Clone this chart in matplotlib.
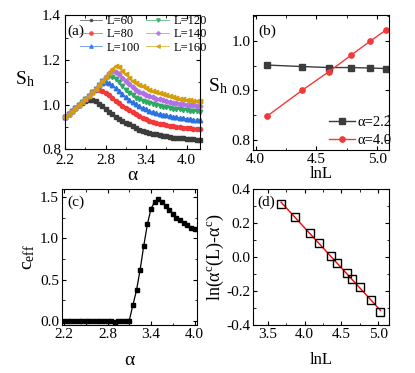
import numpy as np
import matplotlib
matplotlib.use("Agg")
import matplotlib.pyplot as plt
from matplotlib.ticker import AutoMinorLocator

plt.rcParams['font.family'] = ['Liberation Serif', 'DejaVu Serif']
plt.rcParams['mathtext.fontset'] = 'custom'
plt.rcParams['mathtext.rm'] = 'Liberation Serif'
plt.rcParams['mathtext.it'] = 'Liberation Serif:italic'
plt.rcParams['axes.unicode_minus'] = False

# ---------------- data ----------------
alpha_a = [2.20, 2.25, 2.30, 2.35, 2.40, 2.45, 2.50, 2.55, 2.60, 2.65,
           2.70, 2.75, 2.80, 2.85, 2.90, 2.95, 3.00, 3.05, 3.10, 3.15,
           3.20, 3.25, 3.30, 3.35, 3.40, 3.45, 3.50, 3.55, 3.60, 3.65,
           3.70, 3.75, 3.80, 3.85, 3.90, 3.95, 4.00, 4.05, 4.10, 4.15, 4.20]
S_L60 = [0.945, 0.958, 0.971, 0.984, 0.997, 1.009, 1.018, 1.022, 1.021, 1.014,
         1.004, 0.992, 0.979, 0.967, 0.956, 0.945, 0.936, 0.927, 0.919, 0.911,
         0.903, 0.895, 0.888, 0.882, 0.877, 0.873, 0.870, 0.867, 0.864, 0.861,
         0.858, 0.855, 0.852, 0.850, 0.849, 0.848, 0.847, 0.845, 0.844, 0.843, 0.842]
S_L80 = [0.945, 0.958, 0.971, 0.984, 0.997, 1.011, 1.025, 1.039, 1.055, 1.064,
         1.066, 1.062, 1.053, 1.042, 1.030, 1.018, 1.006, 0.995, 0.985, 0.975,
         0.965, 0.956, 0.947, 0.940, 0.934, 0.928, 0.923, 0.919, 0.915, 0.912,
         0.909, 0.906, 0.903, 0.900, 0.898, 0.896, 0.895, 0.893, 0.891, 0.890, 0.889]
S_L100 = [0.945, 0.958, 0.971, 0.984, 0.997, 1.011, 1.025, 1.040, 1.055, 1.071,
          1.086, 1.096, 1.099, 1.095, 1.086, 1.074, 1.061, 1.046, 1.032, 1.020,
          1.010, 1.001, 0.993, 0.985, 0.979, 0.973, 0.967, 0.962, 0.958, 0.955,
          0.952, 0.949, 0.946, 0.943, 0.941, 0.939, 0.937, 0.934, 0.932, 0.931, 0.930]
S_L120 = [0.945, 0.958, 0.971, 0.984, 0.997, 1.011, 1.025, 1.040, 1.055, 1.071,
          1.088, 1.106, 1.121, 1.127, 1.123, 1.113, 1.099, 1.082, 1.066, 1.053,
          1.041, 1.031, 1.024, 1.018, 1.012, 1.006, 1.001, 0.997, 0.994, 0.991,
          0.988, 0.985, 0.982, 0.980, 0.978, 0.976, 0.974, 0.972, 0.970, 0.969, 0.968]
S_L140 = [0.945, 0.958, 0.971, 0.984, 0.997, 1.011, 1.025, 1.040, 1.055, 1.071,
          1.088, 1.106, 1.125, 1.141, 1.149, 1.146, 1.137, 1.121, 1.104, 1.090,
          1.077, 1.066, 1.058, 1.051, 1.044, 1.038, 1.032, 1.027, 1.023, 1.019,
          1.015, 1.011, 1.008, 1.006, 1.004, 1.002, 1.000, 0.998, 0.996, 0.995, 0.994]
S_L160 = [0.945, 0.958, 0.971, 0.984, 0.997, 1.011, 1.025, 1.040, 1.055, 1.071,
          1.088, 1.106, 1.125, 1.143, 1.160, 1.171, 1.168, 1.152, 1.135, 1.120,
          1.107, 1.096, 1.088, 1.081, 1.074, 1.067, 1.061, 1.056, 1.051, 1.047,
          1.042, 1.037, 1.033, 1.030, 1.027, 1.025, 1.022, 1.020, 1.018, 1.016, 1.015]
labels_a = ['L=60', 'L=80', 'L=100', 'L=120', 'L=140', 'L=160']

lnL_b = [4.094, 4.382, 4.605, 4.787, 4.942, 5.075]
S_a22 = [0.951, 0.948, 0.946, 0.946, 0.945, 0.944]
S_a40 = [0.848, 0.900, 0.938, 0.971, 0.999, 1.022]
labels_b = ['α=2.2', 'α=4.0']

alpha_c = [2.20, 2.25, 2.30, 2.35, 2.40, 2.45, 2.50, 2.55, 2.60, 2.65,
           2.70, 2.75, 2.80, 2.85, 2.90, 2.95, 3.00, 3.05, 3.10, 3.15,
           3.20, 3.25, 3.30, 3.35, 3.40, 3.45, 3.50, 3.55, 3.60, 3.65,
           3.70, 3.75, 3.80, 3.85, 3.90, 3.95, 4.00]
ceff = [0.002, 0.001, 0.002, 0.000, 0.001, 0.002, 0.003, 0.003, 0.002, 0.003,
        0.002, 0.001, -0.002, -0.003, -0.018, 0.002, 0.003, 0.002, 0.003, 0.19,
        0.37, 0.62, 0.91, 1.17, 1.36, 1.44, 1.47, 1.44, 1.39, 1.34,
        1.29, 1.25, 1.22, 1.18, 1.16, 1.13, 1.11]

lnL_d = [3.68, 3.87, 4.07, 4.19, 4.36, 4.44, 4.57, 4.65, 4.75, 4.90, 5.03]
lnda_d = [0.312, 0.233, 0.137, 0.082, 0.007, -0.036, -0.095, -0.131, -0.180, -0.256, -0.325]

# ---------------- figure ----------------
fig = plt.figure(figsize=(4.15, 3.73), dpi=100)
axA = fig.add_axes([0.157, 0.600, 0.325, 0.359])
axB = fig.add_axes([0.610, 0.598, 0.328, 0.362])
axC = fig.add_axes([0.149, 0.129, 0.325, 0.365])
axD = fig.add_axes([0.610, 0.129, 0.328, 0.365])

TF = 11
for ax in (axA, axB, axC, axD):
    ax.tick_params(which='both', direction='in', top=True, right=True, labelsize=TF, pad=2)
    ax.tick_params(which='major', length=3, width=0.8)
    ax.tick_params(which='minor', length=1.8, width=0.6)
    ax.xaxis.set_minor_locator(AutoMinorLocator(2))
    ax.yaxis.set_minor_locator(AutoMinorLocator(2))
    for s in ax.spines.values():
        s.set_linewidth(0.8)
axA.tick_params(axis='x', which='both', pad=3.5)
axA.tick_params(axis='y', which='both', pad=3)

# (a)
cols = ['#3c3c3c', '#f03a3a', '#2a72e0', '#2ea862', '#b070e6', '#d49e0a']
marks = ['s', 'o', '^', 'v', 'D', '<']
msz = [2.6, 3.0, 3.2, 3.2, 2.5, 3.2]
for ys, c, m, ms, lab in zip([S_L60, S_L80, S_L100, S_L120, S_L140, S_L160], cols, marks, msz, labels_a):
    axA.plot(alpha_a, ys, color=c, marker=m, ms=ms, lw=0.6, mec=c, label=lab, clip_on=False)
axA.set_xlim(2.2, 4.2)
axA.set_ylim(0.8, 1.4)
axA.set_xticks([2.2, 2.8, 3.4, 4.0])
axA.set_yticks([0.8, 1.0, 1.2, 1.4])
axA.set_xlabel('α', fontsize=14, labelpad=0)
axA.set_ylabel(r'$\mathregular{S_h}$', fontsize=14, rotation=0, va='center')
axA.yaxis.set_label_coords(-0.30, 0.52)
axA.text(0.02, 0.93, '(a)', transform=axA.transAxes, fontsize=11, va='top')
leg = axA.legend(ncol=2, loc='upper left', bbox_to_anchor=(0.10, 1.01), frameon=False,
                 fontsize=9, handlelength=1.8, handletextpad=0.35, columnspacing=0.5,
                 labelspacing=0.1, borderaxespad=0.0, borderpad=0.1, markerscale=0.8)
for lh in leg.get_lines():
    lh.set_alpha(0.75)

# (b)
axB.plot(lnL_b, S_a22, color='#3c3c3c', marker='s', ms=3.8, lw=1.0, label=labels_b[0])
axB.plot(lnL_b, S_a40, color='#f03a3a', marker='o', ms=3.8, lw=1.0, label=labels_b[1])
axB.set_xlim(3.98, 5.10)
axB.set_ylim(0.78, 1.052)
axB.set_xticks([4.0, 4.5, 5.0])
axB.set_yticks([0.8, 0.9, 1.0])
axB.set_xlabel('lnL', fontsize=12, labelpad=0)
axB.set_ylabel(r'$\mathregular{S_h}$', fontsize=14, rotation=0, va='center')
axB.yaxis.set_label_coords(-0.26, 0.47)
axB.text(0.04, 0.93, '(b)', transform=axB.transAxes, fontsize=11, va='top')
axB.legend(loc='lower right', frameon=False, fontsize=10.5, handlelength=1.8,
           handletextpad=0.2, labelspacing=0.3, borderaxespad=0.1, borderpad=0.1,
           bbox_to_anchor=(1.04, 0.0))

# (c)
axC.plot(alpha_c, ceff, color='black', marker='s', ms=2.3, lw=0.9)
axC.set_xlim(2.17, 4.03)
axC.set_ylim(-0.05, 1.6)
axC.set_xticks([2.2, 2.8, 3.4, 4.0])
axC.set_yticks([0.0, 0.5, 1.0, 1.5])
axC.set_xlabel('α', fontsize=14, labelpad=8)
axC.set_ylabel(r'$\mathregular{c_{eff}}$', fontsize=14, labelpad=2)
axC.text(0.04, 0.95, '(c)', transform=axC.transAxes, fontsize=11, va='top')

# (d)
fit = np.polyfit(lnL_d, lnda_d, 1)
xf = np.array([lnL_d[0], lnL_d[-1]])
axD.plot(xf, np.polyval(fit, xf), color='red', lw=1.0)
axD.plot(lnL_d, lnda_d, ls='none', marker='s', ms=5.5, mfc='none', mec='black', mew=1.0)
axD.set_xlim(3.3, 5.15)
axD.set_ylim(-0.4, 0.4)
axD.set_xticks([3.5, 4.0, 4.5, 5.0])
axD.set_yticks([-0.4, -0.2, 0.0, 0.2, 0.4])
axD.set_xlabel('lnL', fontsize=12, labelpad=8)
axD.set_ylabel(r'$\mathregular{ln(α^c(L)}$-$\mathregular{α^c)}$', fontsize=13, labelpad=0)
axD.text(0.03, 0.95, '(d)', transform=axD.transAxes, fontsize=11, va='top')

fig.savefig('out.png', dpi=100)
